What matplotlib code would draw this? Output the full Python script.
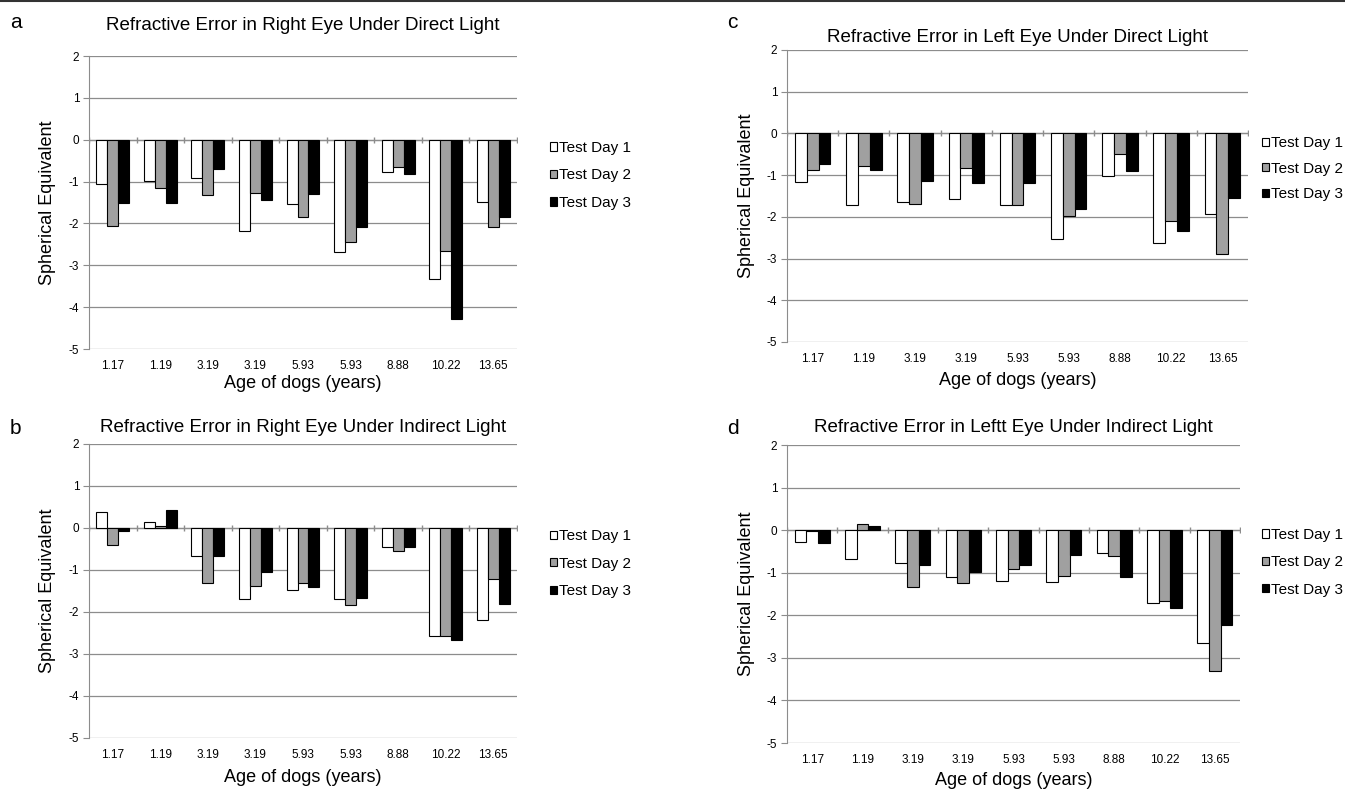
import numpy as np
import matplotlib
matplotlib.use('Agg')
import matplotlib.pyplot as plt
from matplotlib.lines import Line2D

plt.rcParams['font.family'] = ['Liberation Sans', 'DejaVu Sans']
plt.rcParams['axes.unicode_minus'] = False

# Categories: age of dogs (years)
ages = ['1.17', '1.19', '3.19', '3.19', '5.93', '5.93', '8.88', '10.22', '13.65']
series_names = ['Test Day 1', 'Test Day 2', 'Test Day 3']

# a: right eye, direct light
right_direct_day1 = [-1.05, -0.99, -0.92, -2.18, -1.54, -2.69, -0.77, -3.33, -1.49]
right_direct_day2 = [-2.05, -1.16, -1.33, -1.28, -1.85, -2.45, -0.66, -2.66, -2.08]
right_direct_day3 = [-1.51, -1.51, -0.69, -1.44, -1.29, -2.08, -0.83, -4.28, -1.85]

# b: right eye, indirect light
right_indirect_day1 = [0.37, 0.14, -0.66, -1.69, -1.47, -1.69, -0.45, -2.58, -2.18]
right_indirect_day2 = [-0.40, 0.04, -1.31, -1.39, -1.31, -1.83, -0.55, -2.58, -1.21]
right_indirect_day3 = [-0.06, 0.42, -0.66, -1.04, -1.40, -1.67, -0.45, -2.67, -1.80]

# c: left eye, direct light
left_direct_day1 = [-1.16, -1.72, -1.64, -1.57, -1.72, -2.54, -1.02, -2.62, -1.94]
left_direct_day2 = [-0.87, -0.77, -1.69, -0.82, -1.72, -1.98, -0.49, -2.10, -2.90]
left_direct_day3 = [-0.74, -0.87, -1.14, -1.18, -1.18, -1.80, -0.90, -2.34, -1.54]

# d: left eye, indirect light
left_indirect_day1 = [-0.29, -0.67, -0.78, -1.09, -1.19, -1.21, -0.53, -1.72, -2.65]
left_indirect_day2 = [-0.03, 0.15, -1.34, -1.24, -0.91, -1.07, -0.61, -1.66, -3.30]
left_indirect_day3 = [-0.31, 0.09, -0.82, -0.99, -0.82, -0.59, -1.10, -1.82, -2.23]

bar_colors = ['white', '#a0a0a0', 'black']

W, H = 1345, 790
fig = plt.figure(figsize=(W / 100, H / 100), dpi=100)

# frame line along the top of the figure
fig.add_artist(Line2D([0, 1], [0.999, 0.999], color='#333333', lw=1.5))


def px_axes(left, top, right, bottom):
    return fig.add_axes([left / W, 1 - bottom / H, (right - left) / W, (bottom - top) / H])


panels = [
    dict(letter='a', box=(89, 56, 517, 349), title='Refractive Error in Right Eye Under Direct Light',
         pad=19, xpad=2, ylx=-0.077, data=[right_direct_day1, right_direct_day2, right_direct_day3],
         leg=(1.077, 0.71), ls=0.88, lx=(10, 22)),
    dict(letter='b', box=(89, 444, 517, 738), title='Refractive Error in Right Eye Under Indirect Light',
         pad=9, xpad=6, ylx=-0.077, data=[right_indirect_day1, right_indirect_day2, right_indirect_day3],
         leg=(1.077, 0.71), ls=0.88, lx=(10, 428)),
    dict(letter='c', box=(787, 50, 1248, 342), title='Refractive Error in Left Eye Under Direct Light',
         pad=6, xpad=5, ylx=-0.07, data=[left_direct_day1, left_direct_day2, left_direct_day3],
         leg=(1.03, 0.705), ls=0.75, lx=(727, 22)),
    dict(letter='d', box=(787, 445, 1240, 743), title='Refractive Error in Leftt Eye Under Indirect Light',
         pad=9, xpad=4, ylx=-0.07, data=[left_indirect_day1, left_indirect_day2, left_indirect_day3],
         leg=(1.049, 0.722), ls=0.88, lx=(727, 428)),
]

x = np.arange(len(ages))
width = 0.23

for p in panels:
    ax = px_axes(*p['box'])
    for i, vals in enumerate(p['data']):
        ax.bar(x + (i - 1) * width, vals, width, color=bar_colors[i],
               edgecolor='black', linewidth=0.8, label=series_names[i], zorder=3)

    ax.set_ylim(-5, 2)
    ax.set_xlim(-0.5, len(ages) - 0.5)
    ax.set_yticks(range(-5, 3))
    ax.grid(axis='y', color='#8c8c8c', linewidth=0.9, zorder=0)
    ax.axhline(0, color='#8c8c8c', linewidth=0.9, zorder=1)
    # category boundary ticks on the zero line
    ax.plot(np.arange(-0.5, len(ages)), np.zeros(len(ages) + 1), linestyle='none',
            marker='|', markersize=4, color='#8c8c8c', zorder=1)

    ax.set_xticks(x)
    ax.set_xticklabels(ages)
    ax.tick_params(axis='x', length=0, pad=8, labelsize=8.5)
    ax.tick_params(axis='y', length=4, width=0.8, color='#8c8c8c', pad=3, labelsize=8.5)

    for s in ['top', 'right', 'bottom']:
        ax.spines[s].set_visible(False)
    ax.spines['left'].set_color('#8c8c8c')

    ax.set_title(p['title'], fontsize=13.5, pad=p['pad'])
    ax.set_xlabel('Age of dogs (years)', fontsize=13, labelpad=p['xpad'])
    ax.set_ylabel('Spherical Equivalent', fontsize=13)
    ax.yaxis.set_label_coords(p['ylx'], 0.5)

    ax.legend(loc='upper left', bbox_to_anchor=p['leg'], frameon=False, fontsize=11,
              handlelength=0.45, handleheight=0.45, handletextpad=0.15, labelspacing=p['ls'],
              borderaxespad=0, borderpad=0)

    fig.text(p['lx'][0] / W, 1 - p['lx'][1] / H, p['letter'], fontsize=15, va='center')

fig.savefig('out.png', dpi=100)
